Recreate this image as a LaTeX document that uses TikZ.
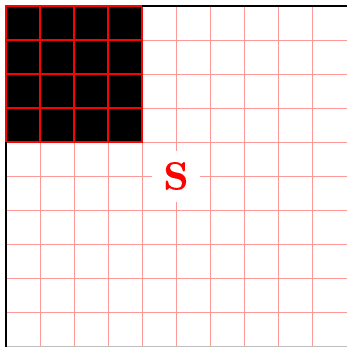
\documentclass[tikz,border=0pt]{standalone}
\usepackage{fontspec}
\newfontfamily\sletterfont[FakeBold=0.3]{lmroman10-bold.otf}
\begin{document}
\begin{tikzpicture}[x=1cm,y=1cm,
  lightgrid/.style={draw=red!40, line width=0.7pt},
  darkgrid/.style={draw=red, line width=1pt},
  axisline/.style={draw=black, line width=1.2pt},
  label/.style={fill=white, text=red, font=\sletterfont\fontsize{33}{38}\selectfont, minimum width=1.4cm, minimum height=1.5cm, inner sep=0pt}]
\useasboundingbox (-0.1765,0.1765) rectangle (10.0294,-10.0294);
\clip (-0.1765,0.1765) rectangle (10.0294,-10.0294);
\fill[white] (-0.1765,0.1765) rectangle (10.0294,-10.0294);
% light grid
\foreach \i in {1,...,9} {
  \draw[lightgrid] (\i,0) -- (\i,-10.5);
  \draw[lightgrid] (0,-\i) -- (10.5,-\i);
}
\draw[draw=black!25, line width=0.6pt] (0,-10) -- (10.5,-10);
% black block
\fill[black] (0,0) rectangle (4,-4);
\draw[darkgrid] (0,0) grid (4,-4);
\draw[darkgrid] (0,0) rectangle (4,-4);
% axes
\draw[axisline] (4,0) -- (10.5,0);
\draw[axisline] (0,-4) -- (0,-10.5);
\node[label] (s) at (5,-5) {S};
\end{tikzpicture}
\end{document}
